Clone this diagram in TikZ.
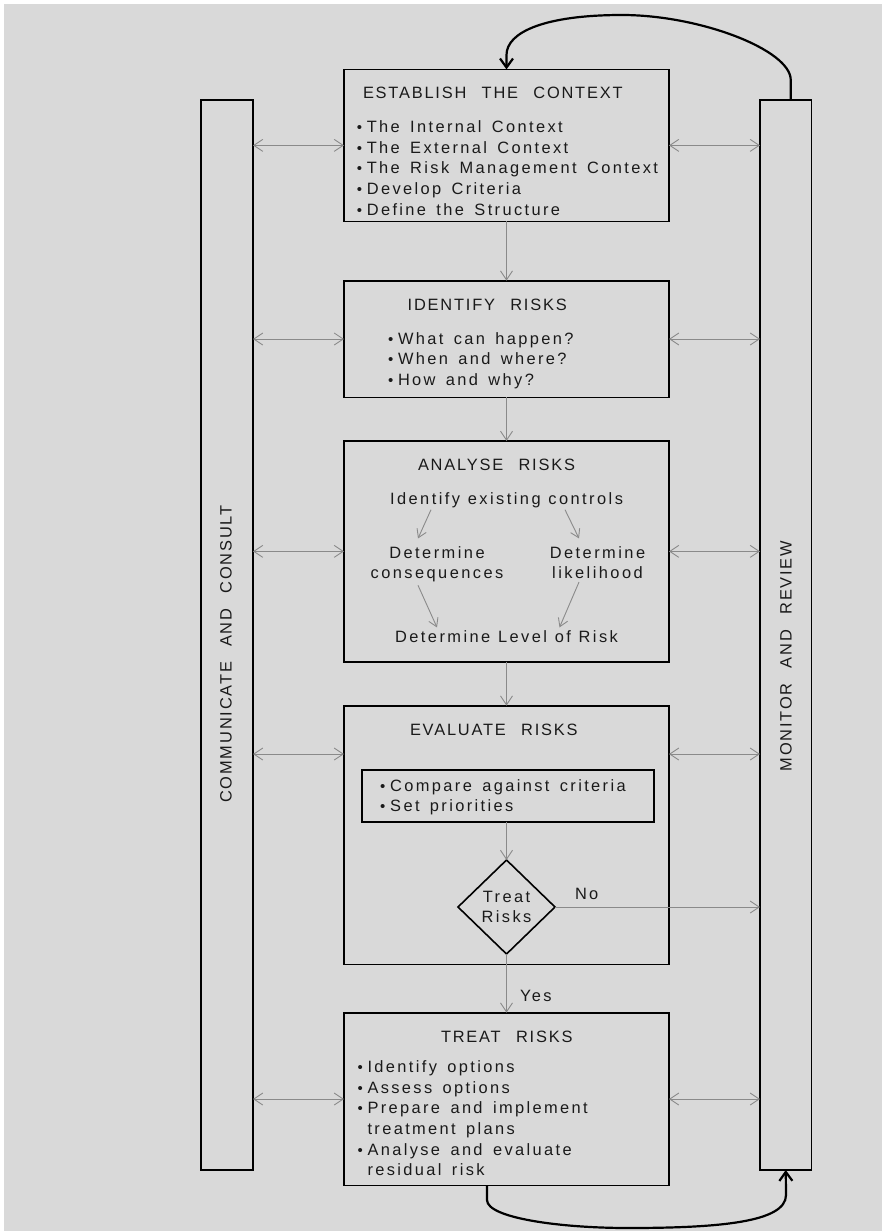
\documentclass[tikz,border=0pt]{standalone}
\usepackage{fontspec}
\setmainfont{Liberation Sans}[LetterSpace=14.5,WordSpace=1.5]
\newfontfamily\capsfont{Liberation Sans}[LetterSpace=11,WordSpace=2.4]
\newfontfamily\anafont{Liberation Sans}[LetterSpace=15,WordSpace=1.1]
\usetikzlibrary{arrows.meta,shapes.geometric,calc}
\definecolor{bg}{HTML}{D9D9D9}
\definecolor{ink}{HTML}{1A1A1A}
\definecolor{conn}{HTML}{8A8A8A}
\newcommand\bl{\makebox[10pt][l]{\fontsize{15}{15}\selectfont •}}
\begin{document}
\begin{tikzpicture}[x=1pt,y=-1pt,
  every node/.style={font=\fontsize{16.4}{20.6}\selectfont, text=ink, inner sep=0pt, outer sep=0pt},
  box/.style={draw=black, line width=1.6pt, rectangle, minimum width=325pt},
  col/.style={draw=black, line width=1.4pt, rectangle, minimum width=52pt, minimum height=1070pt},
  txt/.style={anchor=base west, align=flush left},
  ttl/.style={anchor=base west, font=\capsfont\fontsize{16.4}{20.6}\selectfont},
  ctr/.style={anchor=base, align=flush center, font=\anafont\fontsize{16.4}{20.6}\selectfont},
  garr/.style={draw=conn, line width=0.9pt, -{Straight Barb[length=9pt,width=12pt]}},
  sarr/.style={draw=conn, line width=0.9pt, -{Straight Barb[length=8pt,width=10pt]}},
  gdbl/.style={draw=conn, line width=0.9pt, {Straight Barb[length=9pt,width=12pt]}-{Straight Barb[length=9pt,width=12pt]}},
  loopa/.style={draw=black, line width=2.2pt, -{Straight Barb[length=9pt,width=13pt]}}]
\useasboundingbox (0,0) rectangle (882,1231);
\fill[white] (0,0) rectangle (882,1231);
\fill[bg] (4,4) rectangle (882,1231);

% side columns
\node[col] (lc) at (227,635) {};
\node[col, minimum width=51.5pt] (rc) at (785.75,635) {};
\node[rotate=90, font=\capsfont\fontsize{16.4}{20.6}\selectfont] (cc) at (226,654) {COMMUNICATE AND CONSULT};
\node[rotate=90, font=\capsfont\fontsize{16.4}{20.6}\selectfont] (mr) at (786,656) {MONITOR AND REVIEW};

% main boxes
\node[box, minimum height=152pt] (est) at (506.5,145.4) {};
\node[box, minimum height=116.6pt] (idr) at (506.5,339) {};
\node[box, minimum height=220.7pt] (ana) at (506.5,551.35) {};
\node[box, minimum height=258.6pt] (eva) at (506.5,835) {};
\node[box, minimum width=292pt, minimum height=52pt] (inr) at (508,795.7) {};
\node[box, minimum height=172.6pt] (trt) at (506.5,1099) {};

% Establish
\node[ttl] (estt) at (363,98.3) {ESTABLISH THE CONTEXT};
\node[txt, text width=320pt] (estb) at (356.8,132.7) {\bl The Internal Context\\\bl The External Context\\\bl The Risk Management Context\\\bl Develop Criteria\\\bl Define the Structure};

% Identify
\node[ttl] (idrt) at (407.7,310) {IDENTIFY RISKS};
\node[txt, text width=260pt] (idrb) at (388,344.3) {\bl What can happen?\\\bl When and where?\\\bl How and why?};

% Analyse
\node[ttl] (anat) at (418,470.5) {ANALYSE RISKS};
\node[ctr] (ctrl) at (506.5,504.3) {Identify existing controls};
\node[ctr, text width=150pt] (cons) at (437,558.3) {Determine\\consequences};
\node[ctr, text width=150pt] (like) at (597.5,558.3) {Determine\\likelihood};
\node[ctr] (lvl) at (506.5,642.3) {Determine Level of Risk};
\draw[sarr] ($(ctrl.south)+(-75.5,2)$) -- ($(cons.north)+(-19,-8)$);
\draw[sarr] ($(ctrl.south)+(58.5,2)$) -- ($(like.north)+(-18.5,-8)$);
\draw[sarr] ($(cons.south)+(-19,3)$) -- ($(lvl.north)+(-69.5,-3)$);
\draw[sarr] ($(like.south)+(-18.5,3)$) -- ($(lvl.north)+(53,-3)$);

% Evaluate
\node[ttl] (evat) at (410,735) {EVALUATE RISKS};
\node[txt, text width=270pt] (evab) at (380.2,791) {\bl Compare against criteria\\\bl Set priorities};
\node[diamond, draw=black, line width=1.6pt, minimum width=97pt, minimum height=94pt, align=center] (dia) at (506.5,907) {Treat\\Risks};
\node[txt] (no) at (575,899.3) {No};
\node[txt] (yes) at (520,1001) {Yes};

% Treat
\node[ttl] (trtt) at (441,1042.3) {TREAT RISKS};
\node[txt, text width=300pt] (trtb) at (357.5,1072.7) {\bl Identify options\\\bl Assess options\\\bl Prepare and implement\\\hspace*{10pt}treatment plans\\\bl Analyse and evaluate\\\hspace*{10pt}residual risk};

% vertical flow
\draw[garr] (est.south) -- (idr.north);
\draw[garr] (idr.south) -- (ana.north);
\draw[garr] (ana.south) -- (eva.north);
\draw[garr] (inr.south -| dia.north) -- (dia.north);
\draw[garr] (dia.south) -- (trt.north -| dia.south);
\draw[garr] (dia.east) -- (rc.west |- dia.east);

% side arrows
\coordinate (evy) at (0,754);
\draw[gdbl] (lc.east |- est.center) -- (est.west);
\draw[gdbl] (est.east) -- (rc.west |- est.center);
\draw[gdbl] (lc.east |- idr.center) -- (idr.west);
\draw[gdbl] (idr.east) -- (rc.west |- idr.center);
\draw[gdbl] (lc.east |- ana.center) -- (ana.west);
\draw[gdbl] (ana.east) -- (rc.west |- ana.center);
\draw[gdbl] (lc.east |- evy) -- (eva.west |- evy);
\draw[gdbl] (eva.east |- evy) -- (rc.west |- evy);
\draw[gdbl] (lc.east |- trt.center) -- (trt.west);
\draw[gdbl] (trt.east) -- (rc.west |- trt.center);

% loops
\draw[loopa] ([xshift=5pt]rc.north) -- (790.75,80) .. controls (790.75,50) and (700,15) .. (622,15) .. controls (545,15) and (506.5,32) .. (506.5,55) -- (est.north);
\draw[loopa] ([xshift=-19.5pt]trt.south) -- (487,1200) .. controls (487,1218) and (560,1228) .. (628,1228) .. controls (720,1228) and (786,1222) .. (786,1195) -- (rc.south);
\end{tikzpicture}
\end{document}
